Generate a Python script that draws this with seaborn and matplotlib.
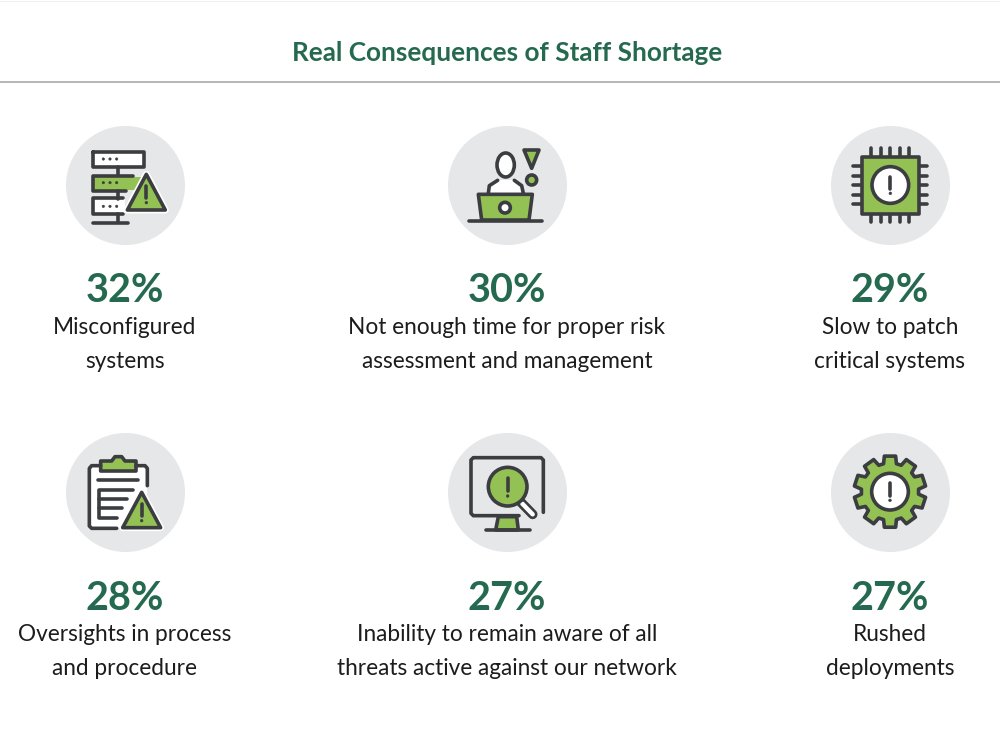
"""
Real Consequences of Staff Shortage: infographic with six icon tiles.
"""

import matplotlib
matplotlib.use("Agg")
import matplotlib.pyplot as plt
import numpy as np
import pandas as pd
import seaborn as sns
from matplotlib.patches import Circle, Ellipse, Polygon, Rectangle

title = "Real Consequences of Staff Shortage"
percents = [32, 30, 29, 28, 27, 27]
labels = [
    "Misconfigured\nsystems",
    "Not enough time for proper risk\nassessment and management",
    "Slow to patch\ncritical systems",
    "Oversights in process\nand procedure",
    "Inability to remain aware of all\nthreats active against our network",
    "Rushed\ndeployments",
]

GREEN_TEXT = "#256a50"
GREEN = "#94c153"
DARK = "#3b3d40"
GREY = "#e6e7e9"
LW = 2.6

sns.set_theme(style="white")
plt.rcParams["font.family"] = ["Lato", "DejaVu Sans"]

col_x = [125, 507, 890]
row_y = [185, 492]
centers = pd.DataFrame({
    "x": [x for _ in row_y for x in col_x],
    "y": [y for y in row_y for _ in col_x],
    "percent": percents,
    "label": labels,
})
# top-left corner of the 150x130 crop each icon shape was read from
corners = [(50, 115), (435, 115), (815, 115), (50, 425), (435, 425), (815, 425)]

fig = plt.figure(figsize=(10, 7.32), dpi=100)
ax = fig.add_axes([0, 0, 1, 1])


class Icon:
    """Draws in the 3x coordinates of a crop whose corner is at (ox, oy)."""

    def __init__(self, ox, oy):
        self.ox = ox
        self.oy = oy

    def xy(self, pts):
        return [(self.ox + x / 3, self.oy + y / 3) for x, y in pts]

    def line(self, pts, color=DARK, lw=LW, z=5):
        p = np.array(self.xy(pts))
        ax.plot(p[:, 0], p[:, 1], color=color, lw=lw, zorder=z,
                solid_capstyle="round", solid_joinstyle="round")

    def poly(self, pts, fill=GREEN, z=4, lw=LW, edge=DARK):
        ax.add_patch(Polygon(self.xy(pts), closed=True, facecolor=fill, edgecolor=edge,
                             lw=lw, joinstyle="round", zorder=z))

    def rect(self, x0, y0, x1, y1, fill, z=3):
        (a, b), (c, d) = self.xy([(x0, y0), (x1, y1)])
        ax.add_patch(Rectangle((a, b), c - a, d - b, facecolor=fill, edgecolor="none", zorder=z))

    def circle(self, x, y, r, fill, z=5, lw=LW):
        (a, b), = self.xy([(x, y)])
        ax.add_patch(Circle((a, b), r / 3, facecolor=fill, edgecolor=DARK, lw=lw, zorder=z))

    def bang(self, x, y0, y1, dot, z=7):
        self.line([(x, y0), (x, y1)], z=z)
        self.circle(x, dot, 4, DARK, z=z, lw=0.4)

    def triangle(self, top_x, top_y, half, bottom, z=6):
        # white halo, then the green warning sign
        pts = [(top_x, top_y), (top_x + half, bottom), (top_x - half, bottom)]
        self.poly(pts, fill="white", z=z, lw=LW + 2.4, edge="white")
        self.poly(pts, fill=GREEN, z=z + 0.5)
        self.bang(top_x, top_y + 35, top_y + 70, top_y + 85, z=z + 1)


def draw_server(ic):
    for y in [155, 227, 297]:
        ic.line([(205, y), (205, y + 25)])
    ic.rect(130, 110, 283, 155, "white")
    ic.line([(130, 110), (283, 110), (283, 155), (130, 155), (130, 110)])
    ic.rect(130, 250, 225, 297, "white")
    ic.line([(220, 250), (130, 250), (130, 297), (220, 297)])
    ic.rect(132, 185, 278, 224, GREEN)
    ic.line([(250, 182), (130, 182), (130, 227), (228, 227)])
    for y in [132, 203, 274]:
        for x in [160, 180, 200]:
            ic.circle(x, y, 3.6, DARK, lw=0.4)
    ic.line([(130, 323), (235, 323)])
    ic.triangle(289, 178, 57, 285)


def draw_laptop(ic):
    ic.poly([(160, 240), (164, 210), (188, 195), (238, 195), (260, 210), (265, 240)],
            fill="white", z=2, lw=0)
    ic.line([(160, 235), (163, 212), (188, 196)])
    ic.line([(238, 196), (260, 212), (265, 235)])
    (cx, cy), = ic.xy([(212, 150)])
    ax.add_patch(Ellipse((cx, cy), 52 / 3, 72 / 3, facecolor="white", edgecolor=DARK, lw=LW, zorder=4))
    ic.poly([(130, 238), (292, 238), (282, 315), (140, 315)])
    ic.line([(102, 317), (322, 317)])
    ic.circle(210, 278, 16, "white")
    ic.poly([(267, 105), (312, 105), (290, 160)])
    ic.circle(290, 195, 15, GREEN)


def draw_chip(ic):
    for d in [168, 197, 226, 254, 283]:
        ic.line([(d, 100), (d, 322)], z=3)
    for d in [153, 182, 210, 239, 268]:
        ic.line([(115, d), (337, d)], z=3)
    ic.poly([(140, 125), (313, 125), (313, 297), (140, 297)])
    ic.circle(226, 210, 55, "white")
    ic.bang(226, 185, 222, 235)


def draw_clipboard(ic):
    ic.rect(118, 122, 292, 310, "white", z=2)
    ic.line([(152, 122), (125, 122), (118, 130), (118, 303), (125, 310), (200, 310)])
    ic.line([(258, 122), (285, 122), (292, 130), (292, 182)])
    ic.poly([(152, 108), (185, 108), (195, 95), (215, 95), (225, 108), (258, 108), (258, 138), (152, 138)])
    ic.line([(145, 165), (265, 165)])
    ic.line([(250, 195), (147, 195), (147, 280), (200, 280)])
    ic.line([(147, 222), (230, 222)])
    ic.line([(147, 250), (215, 250)])
    ic.triangle(275, 202, 57, 308)


def draw_monitor(ic):
    ic.line([(252, 272), (115, 272), (108, 265), (108, 105), (115, 98),
             (318, 98), (325, 105), (325, 262)])
    ic.poly([(190, 275), (245, 275), (250, 315), (182, 315)], z=3)
    ic.line([(152, 315), (285, 315)])
    ic.line([(258, 232), (293, 268)], lw=7.0, z=4)
    ic.line([(262, 236), (293, 268)], color="white", lw=3.2, z=5)
    ic.circle(218, 185, 58, GREEN, z=6)
    ic.bang(218, 160, 198, 213)


def draw_gear(ic):
    # ten teeth around the ring
    pts = []
    for k in range(10):
        a = np.radians(90 + 36 * k)
        for da, r in [(-13, 86), (-9, 108), (9, 108), (13, 86)]:
            t = a + np.radians(da)
            pts.append((225 + r * np.cos(t), 200 - r * np.sin(t)))
    ic.poly(pts, z=4)
    ic.circle(225, 200, 55, "white")
    ic.bang(225, 175, 212, 226)


# grey discs behind the icons
sns.scatterplot(data=centers, x="x", y="y", s=7344, color=GREY, linewidth=0,
                legend=False, ax=ax, zorder=1)

ax.set_xlim(0, 1000)
ax.set_ylim(732, 0)
ax.set_aspect("equal")
ax.axis("off")

drawers = [draw_server, draw_laptop, draw_chip, draw_clipboard, draw_monitor, draw_gear]
for (_, row), draw, corner in zip(centers.iterrows(), drawers, corners):
    draw(Icon(*corner))
    ax.text(row["x"], row["y"] + 106, f"{row['percent']}%", ha="center", va="center",
            fontsize=28.5, fontweight="bold", color=GREEN_TEXT)
    ax.text(row["x"], row["y"] + 159.5, row["label"], ha="center", va="center",
            fontsize=16.3, color="#1c1c1c", linespacing=1.77)

ax.text(507, 53, title, ha="center", va="center", fontsize=18.8,
        fontweight="bold", color=GREEN_TEXT)
ax.plot([0, 1000], [82, 82], color="#a9a9a9", lw=1.2, zorder=2)
ax.plot([0, 1000], [0.5, 0.5], color="#efefef", lw=0.8, zorder=2)

fig.savefig("out.png", dpi=100)
plt.close(fig)
